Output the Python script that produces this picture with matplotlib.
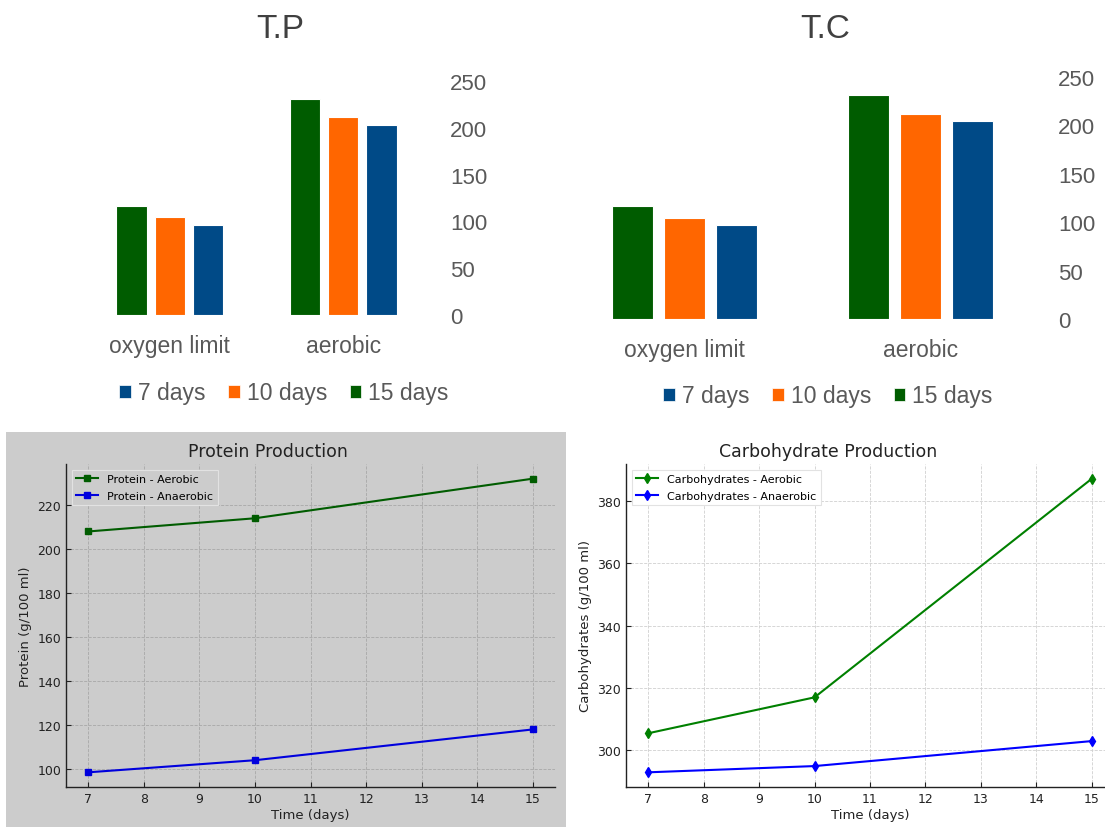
"""
Protein / carbohydrate production: two Excel-style bar charts on top,
two line charts below.
"""
import matplotlib

matplotlib.use("Agg")
import matplotlib.pyplot as plt
from matplotlib.patches import Patch, Rectangle

W, H = 1105, 828

# bar charts
groups = ["oxygen limit", "aerobic"]
bar_days = ["7 days", "10 days", "15 days"]
tp_7 = [96, 203]
tp_10 = [104.5, 211.5]
tp_15 = [116.5, 231]
tc_7 = [97, 204.5]
tc_10 = [104.5, 212]
tc_15 = [116.5, 231]
bar_ticks = [0, 50, 100, 150, 200, 250]

# line charts
days = [7, 10, 15]
protein_aerobic = [208, 214, 232]
protein_anaerobic = [98.5, 104, 118]
carbs_aerobic = [305.5, 317, 387]
carbs_anaerobic = [293, 295, 303]

GREEN = "#005c00"
ORANGE = "#ff6600"
BLUE = "#004a87"
XL_TEXT = "#595959"
XL_TITLE = "#404040"
XL_FONT = ["Liberation Sans", "DejaVu Sans"]


def px_box(left, top, right, bottom):
    return [left / W, 1 - bottom / H, (right - left) / W, (bottom - top) / H]


def bar_chart(fig, box, title, title_x, legend_x, legend_y, s7, s10, s15):
    ax = fig.add_axes(box)
    x = range(len(groups))
    step, width = 0.22, 0.174
    for off, vals, color in [(-step, s15, GREEN), (0, s10, ORANGE), (step, s7, BLUE)]:
        ax.bar([i + off for i in x], vals, width=width, color=color,
               edgecolor="white", linewidth=0.8)
    ax.set_xlim(-0.5, 1.5)
    ax.set_ylim(0, 250)
    ax.set_xticks(list(x))
    ax.set_xticklabels(groups, family=XL_FONT, fontsize=16.5, color=XL_TEXT)
    ax.set_yticks(bar_ticks)
    ax.set_yticklabels([str(t) for t in bar_ticks], family=XL_FONT, fontsize=16, color=XL_TEXT)
    ax.yaxis.tick_right()
    ax.tick_params(axis="y", length=0, pad=14.5)
    ax.tick_params(axis="x", length=0, pad=13.5)
    for spine in ax.spines.values():
        spine.set_visible(False)
    ax.patch.set_alpha(0)
    fig.text(title_x / W, 1 - 30 / H, title, ha="center", va="center",
             family=XL_FONT, fontsize=24, color=XL_TITLE)
    handles = [Patch(facecolor=c, edgecolor="white", linewidth=0.5) for c in (BLUE, ORANGE, GREEN)]
    fig.legend(handles, bar_days, loc="center", bbox_to_anchor=(legend_x / W, 1 - legend_y / H),
               ncol=3, frameon=False, handlelength=0.5, handleheight=0.5,
               handletextpad=0.3, columnspacing=1.0,
               prop={"family": XL_FONT, "size": 16.5}, labelcolor=XL_TEXT)
    return ax


def line_style(ax, bg, grid_color, legend_bg):
    ax.set_facecolor(bg)
    ax.grid(True, linestyle="--", linewidth=0.6, color=grid_color)
    ax.set_axisbelow(True)
    ax.spines["top"].set_visible(False)
    ax.spines["right"].set_visible(False)
    for s in ("left", "bottom"):
        ax.spines[s].set_color("#222222")
        ax.spines[s].set_linewidth(1.0)
    ax.tick_params(direction="in", length=3.5, labelsize=9, colors="#222222")
    ax.set_xticks(range(7, 16))
    ax.set_xlabel("Time (days)", fontsize=9.5, color="#222222", labelpad=2)
    leg = ax.legend(loc="upper left", fontsize=8, facecolor=legend_bg,
                    edgecolor="#e2e2e2", framealpha=1, fancybox=False,
                    labelspacing=0.6)
    leg.get_frame().set_linewidth(0.8)


fig = plt.figure(figsize=(W / 100, H / 100), dpi=100, facecolor="white")

# gray panel behind the protein line chart
fig.patches.append(Rectangle((6 / W, 0), 560 / W, 395 / H, transform=fig.transFigure,
                             facecolor="#cccccc", edgecolor="none", zorder=-10))

bar_chart(fig, px_box(83, 82, 430, 316), "T.P", 280, 284, 394, tp_7, tp_10, tp_15)
bar_chart(fig, px_box(567, 78, 1038, 320), "T.C", 825, 828, 397, tc_7, tc_10, tc_15)

# protein line chart
ax1 = fig.add_axes(px_box(66, 465, 555, 788))
ax1.plot(days, protein_aerobic, marker="s", markersize=4.5, color="#005c00",
         linewidth=1.5, label="Protein - Aerobic")
ax1.plot(days, protein_anaerobic, marker="s", markersize=4.5, color="#0000dd",
         linewidth=1.5, label="Protein - Anaerobic")
ax1.set_ylabel("Protein (g/100 ml)", fontsize=9.5, color="#222222")
ax1.set_title("Protein Production", fontsize=12.5, color="#222222", x=0.413, pad=6)
line_style(ax1, "#cccccc", "#a8a8a8", "#cccccc")

# carbohydrate line chart (its right side runs past the figure edge)
ax2 = fig.add_axes(px_box(626, 465, 1114, 788))
ax2.plot(days, carbs_aerobic, marker="d", markersize=5.5, color="#008000",
         linewidth=1.5, label="Carbohydrates - Aerobic")
ax2.plot(days, carbs_anaerobic, marker="d", markersize=5.5, color="#0000ff",
         linewidth=1.5, label="Carbohydrates - Anaerobic")
ax2.set_ylabel("Carbohydrates (g/100 ml)", fontsize=9.5, color="#222222")
ax2.set_title("Carbohydrate Production", fontsize=12.5, color="#222222", x=0.414, pad=6)
line_style(ax2, "white", "#d0d0d0", "white")

fig.savefig("out.png", dpi=100, facecolor="white")
plt.close(fig)
